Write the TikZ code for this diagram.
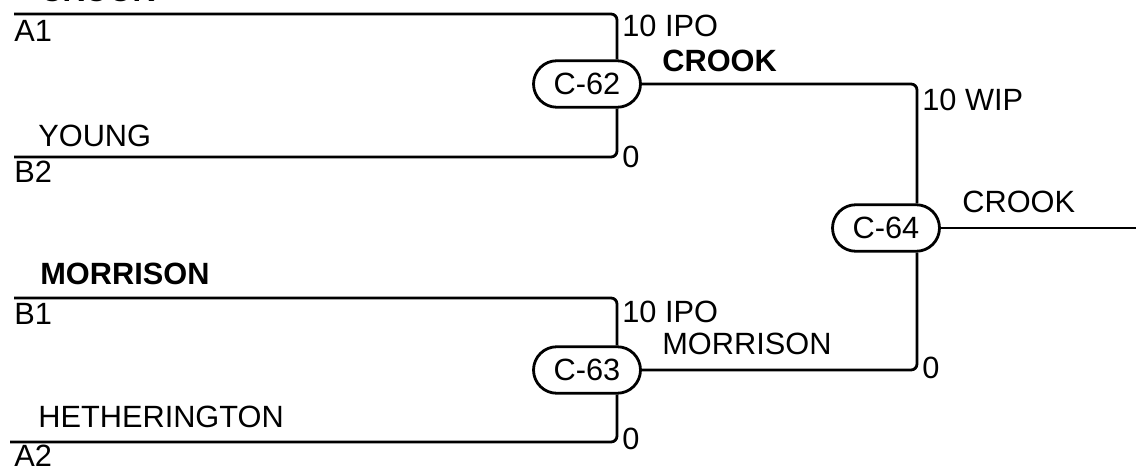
\documentclass[tikz,border=0pt]{standalone}
\usepackage{fontspec}
\setmainfont{Liberation Sans}
\usetikzlibrary{shapes.misc, positioning}

\begin{document}
\begin{tikzpicture}[x=0.02cm,y=-0.02cm,
  game/.style={rounded rectangle,draw,line width=1.6pt,minimum width=2.14cm,
    minimum height=0.93cm,inner sep=0pt,font=\fontsize{17.5}{20}\selectfont},
  lbl/.style={anchor=base west,inner sep=0pt,font=\fontsize{17.5}{20}\selectfont},
  win/.style={lbl,font=\fontsize{17.5}{20}\selectfont\bfseries},
  wire/.style={line width=1.6pt,rounded corners=3.4pt}]
\clip (0,0) rectangle (1136,469);
% games
\node[game] (c62) at (587,84) {C-62};
\node[game] (c63) at (587,370) {C-63};
\node[game] (c64) at (886,228) {C-64};
% line ends
\coordinate (a1) at (14,14);
\coordinate (b2) at (14,157);
\coordinate (b1) at (14,298);
\coordinate (a2) at (10,442);
\coordinate (out) at (1136,228);
\coordinate (j1) at (617,0);
\coordinate (j2) at (917,0);
% wires
\draw[wire] (a1) -- (a1 -| j1) -- (c62.north -| j1);
\draw[wire] (b2) -- (b2 -| j1) -- (c62.south -| j1);
\draw[wire] (b1) -- (b1 -| j1) -- (c63.north -| j1);
\draw[wire] (a2) -- (a2 -| j1) -- (c63.south -| j1);
\draw[wire] (c62.east) -- (c62.east -| j2) -- (c64.north -| j2);
\draw[wire] (c63.east) -- (c63.east -| j2) -- (c64.south -| j2);
\draw[wire] (c64.east) -- (out);
% names
\node[win] (w1) at (40,2) {CROOK};
\node[lbl] (la1) at (14,42) {A1};
\node[lbl] (ny) at (38,147) {YOUNG};
\node[lbl] (lb2) at (14,183) {B2};
\node[win] (w2) at (40,285) {MORRISON};
\node[lbl] (lb1) at (14,325) {B1};
\node[lbl] (nh) at (38,428) {HETHERINGTON};
\node[lbl] (la2) at (14,466) {A2};
\node[win] (w62) at (662,72) {CROOK};
\node[lbl] (w63) at (662,355) {MORRISON};
\node[lbl] (w64) at (962,213) {CROOK};
% scores
\node[lbl] (s1) at (622,37) {10 IPO};
\node[lbl] (s2) at (622,168) {0};
\node[lbl] (s3) at (622,323) {10 IPO};
\node[lbl] (s4) at (622,450) {0};
\node[lbl] (s5) at (922,111) {10 WIP};
\node[lbl] (s6) at (922,378) {0};
\end{tikzpicture}
\end{document}
